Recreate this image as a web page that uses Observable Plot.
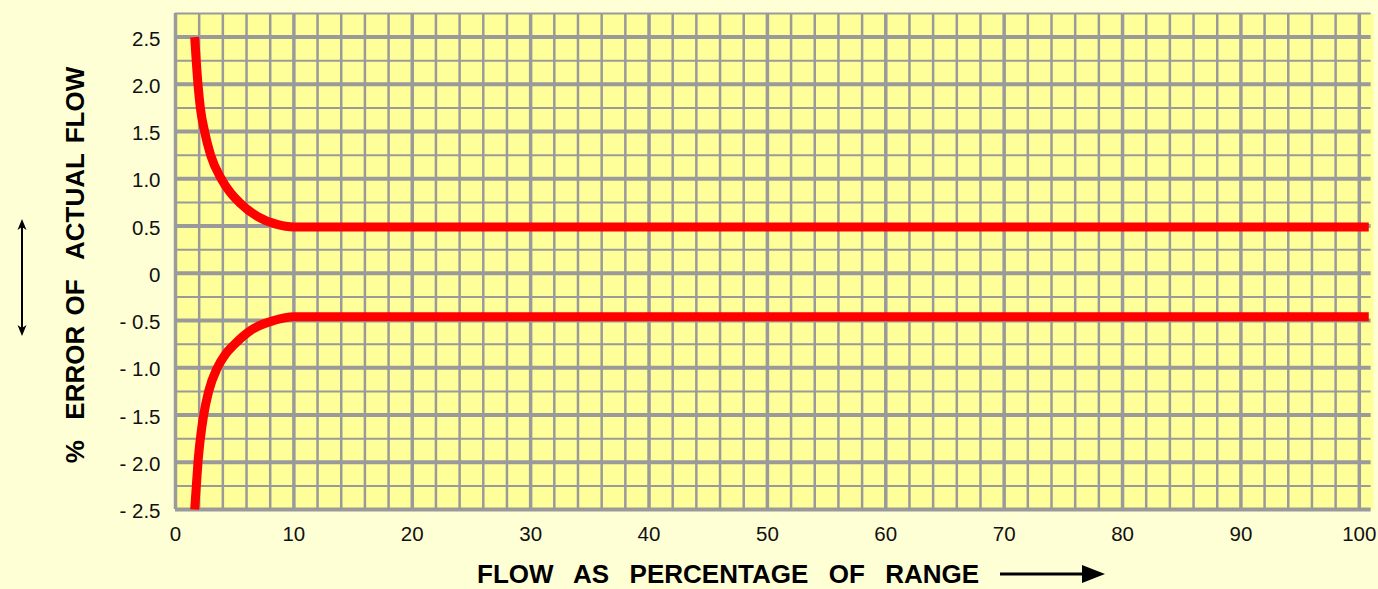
<!DOCTYPE html>
<html>
<head>
<meta charset="utf-8">
<script src="https://cdn.jsdelivr.net/npm/d3@7"></script>
<script src="https://cdn.jsdelivr.net/npm/@observablehq/plot@0.6"></script>
<style>
  html, body { margin: 0; padding: 0; background: #FFFFD6; }
  #chart { width: 1378px; height: 589px; }
  svg text.title { white-space: pre; word-spacing: 3px; }
</style>
</head>
<body>
<div id="chart"></div>
<script>
// ---- data ----
const xTicks = [0, 10, 20, 30, 40, 50, 60, 70, 80, 90, 100];
const xTickLabels = ["0", "10", "20", "30", "40", "50", "60", "70", "80", "90", "100"];
const yTicks = [-2.5, -2.0, -1.5, -1.0, -0.5, 0, 0.5, 1.0, 1.5, 2.0, 2.5];
const yTickLabels = ["- 2.5", "- 2.0", "- 1.5", "- 1.0", "- 0.5", "0", "0.5", "1.0", "1.5", "2.0", "2.5"];

const upperX = [1.62, 1.9, 2.1, 2.46, 2.97, 3.87, 4.6, 5.4, 6.95, 8.5, 10, 100.8];
const upperY = [2.5, 2.0, 1.75, 1.5, 1.25, 1.0, 0.86, 0.75, 0.6, 0.52, 0.49, 0.49];
const lowerX = [1.62, 1.76, 1.9, 2.1, 2.38, 2.8, 3.53, 4.2, 5.0, 6.4, 8.3, 10, 100.8];
const lowerY = [-2.5, -2.25, -2.0, -1.75, -1.5, -1.25, -1.0, -0.86, -0.75, -0.6, -0.5, -0.46, -0.46];

const xTitle = "FLOW  AS  PERCENTAGE  OF  RANGE";
const yTitle = "%  ERROR OF  ACTUAL FLOW";

// ---- tables ----
const upper = upperX.map((x, i) => ({x, y: upperY[i]}));
const lower = lowerX.map((x, i) => ({x, y: lowerY[i]}));
const minorX = d3.range(0, 101, 2).filter(v => v % 10 !== 0);
const minorY = d3.range(-2.5, 2.76, 0.25).filter(v => Math.abs((v * 2) - Math.round(v * 2)) > 1e-6);
const xLabel = new Map(xTicks.map((t, i) => [t, xTickLabels[i]]));
const yLabel = new Map(yTicks.map((t, i) => [t, yTickLabels[i]]));

const gridColor = "#9a9a9a";
const font = "'Liberation Sans', Arial, sans-serif";

const chart = Plot.plot({
  width: 1378,
  height: 589,
  marginLeft: 175,
  marginRight: 5,
  marginTop: 13,
  marginBottom: 80,
  style: { background: "transparent", fontFamily: font, fontSize: "20px", color: "#111" },
  x: { domain: [0, 101.2] },
  y: { domain: [-2.5, 2.75] },
  marks: [
    Plot.frame({ fill: "#FFFF99", stroke: null }),
    Plot.ruleX(minorX, { stroke: gridColor, strokeWidth: 2.5 }),
    Plot.ruleY(minorY, { x1: 0, x2: 101, stroke: gridColor, strokeWidth: 2 }),
    Plot.ruleX(xTicks, { stroke: gridColor, strokeWidth: 3.5 }),
    Plot.ruleY(yTicks, { x1: 0, x2: 101, stroke: gridColor, strokeWidth: 4 }),
    Plot.line(upper, { x: "x", y: "y", stroke: "#FF0000", strokeWidth: 9, curve: "monotone-x", strokeLinecap: "butt" }),
    Plot.line(lower, { x: "x", y: "y", stroke: "#FF0000", strokeWidth: 9, curve: "monotone-x", strokeLinecap: "butt" }),
    Plot.axisX(xTicks, { tickSize: 0, tickPadding: 17, fontSize: 20.5, tickFormat: d => xLabel.get(d), label: null }),
    Plot.axisY(yTicks, { tickSize: 0, tickPadding: 15, fontSize: 20.5, tickFormat: d => yLabel.get(d), label: null, dy: 2 })
  ]
});

const svg = d3.select(chart);
// x-axis title
svg.append("text")
  .attr("class", "title")
  .attr("x", 477).attr("y", 583)
  .attr("text-anchor", "start")
  .attr("font-family", font).attr("font-weight", "bold").attr("font-size", 26)
  .attr("fill", "#000")
  .text(xTitle);
// x arrow
svg.append("line").attr("x1", 1000).attr("y1", 574).attr("x2", 1086).attr("y2", 574)
  .attr("stroke", "#000").attr("stroke-width", 3);
svg.append("path").attr("d", "M1082,565 L1105,574 L1082,583 Z").attr("fill", "#000");
// y-axis title
svg.append("text")
  .attr("class", "title")
  .attr("transform", "translate(84,265) rotate(-90)")
  .attr("text-anchor", "middle")
  .attr("font-family", font).attr("font-weight", "bold").attr("font-size", 26)
  .attr("fill", "#000")
  .text(yTitle);
// y double arrow
svg.append("line").attr("x1", 22).attr("y1", 226).attr("x2", 22).attr("y2", 329)
  .attr("stroke", "#000").attr("stroke-width", 2);
svg.append("path").attr("d", "M22,219 L26.5,230 L22,227 L17.5,230 Z").attr("fill", "#000");
svg.append("path").attr("d", "M22,336 L26.5,325 L22,328 L17.5,325 Z").attr("fill", "#000");

document.getElementById("chart").appendChild(chart);
</script>
</body>
</html>
